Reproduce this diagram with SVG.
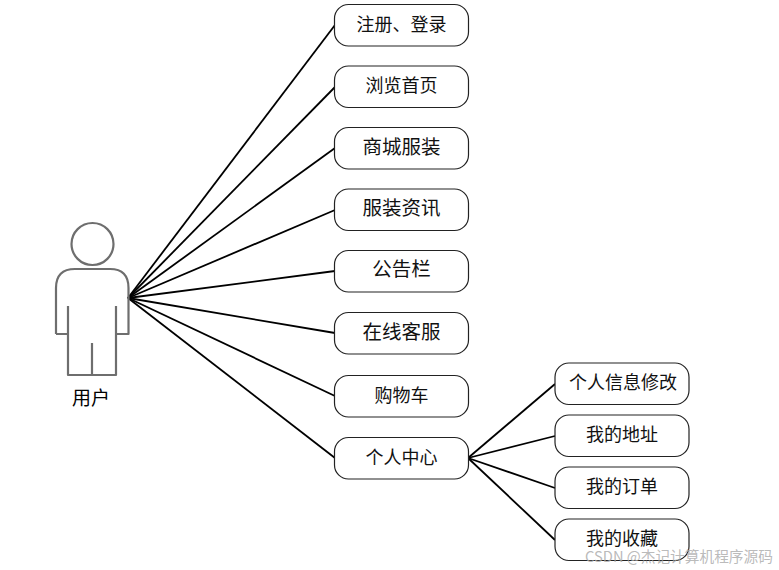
<svg xmlns="http://www.w3.org/2000/svg" width="779" height="570" viewBox="0 0 779 570">
<style>
.n{fill:#fff;stroke:#222;stroke-width:1.2}
.t{font-family:"Noto Sans CJK SC","Noto Sans",sans-serif;font-size:18px;fill:#111;text-anchor:middle}
.l{font-size:19.500px}
.c line{stroke:#000;stroke-width:1.8}
.a{fill:none;stroke:#6e6e6e;stroke-width:2.2;stroke-linejoin:round}
</style>
<rect width="779" height="570" fill="#fff"/>
<g class="c" id="connectors">
<line x1="128" y1="298" x2="335" y2="25"/>
<line x1="128" y1="298" x2="335" y2="87"/>
<line x1="128" y1="298" x2="335" y2="148"/>
<line x1="128" y1="298" x2="335" y2="210"/>
<line x1="128" y1="298" x2="335" y2="271"/>
<line x1="128" y1="298" x2="335" y2="333"/>
<line x1="128" y1="298" x2="335" y2="396"/>
<line x1="128" y1="298" x2="335" y2="458"/>
<line x1="468" y1="458" x2="555" y2="384"/>
<line x1="468" y1="458" x2="555" y2="436"/>
<line x1="468" y1="458" x2="555" y2="488"/>
<line x1="468" y1="458" x2="555" y2="540"/>
</g>
<g id="actor">
<circle class="a" cx="92.500" cy="244" r="21"/>
<path class="a" d="M56 334V288Q56 269 75 269H110Q128.500 269 128.500 288V334H116V306M116 334V375H68V334H56M68 334V306M92 375V343"/>
<text class="t" x="91" y="405" style="font-size:19px;fill:#000">用户</text>
</g>
<g id="n1"><rect class="n" x="334.500" y="4.500" width="134" height="41.500" rx="14"/><text class="t" x="401.500" y="31">注册、登录</text></g>
<g id="n2"><rect class="n" x="334.500" y="66" width="134" height="41.500" rx="14"/><text class="t" x="401.500" y="92">浏览首页</text></g>
<g id="n3"><rect class="n" x="334.500" y="127.500" width="134" height="41.500" rx="14"/><text class="t l" x="401.500" y="154">商城服装</text></g>
<g id="n4"><rect class="n" x="334.500" y="189" width="134" height="41.500" rx="14"/><text class="t l" x="401.500" y="215">服装资讯</text></g>
<g id="n5"><rect class="n" x="334.500" y="250.500" width="134" height="41.500" rx="14"/><text class="t l" x="401.500" y="276">公告栏</text></g>
<g id="n6"><rect class="n" x="334.500" y="312.500" width="134" height="41.500" rx="14"/><text class="t l" x="401.500" y="339">在线客服</text></g>
<g id="n7"><rect class="n" x="334.500" y="375.500" width="134" height="41.500" rx="14"/><text class="t" x="401.500" y="402">购物车</text></g>
<g id="n8"><rect class="n" x="334.500" y="437.500" width="134" height="41.500" rx="14"/><text class="t" x="401.500" y="464">个人中心</text></g>
<g id="n9"><rect class="n" x="555" y="363" width="134" height="41.500" rx="14"/><text class="t" x="623" y="389">个人信息修改</text></g>
<g id="n10"><rect class="n" x="555" y="415" width="134" height="41.500" rx="14"/><text class="t" x="622" y="441">我的地址</text></g>
<g id="n11"><rect class="n" x="555" y="467" width="134" height="41.500" rx="14"/><text class="t" x="622" y="493">我的订单</text></g>
<g id="n12"><rect class="n" x="555" y="519" width="134" height="41.500" rx="14"/><text class="t" x="622" y="545">我的收藏</text></g>
<text x="679" y="562" text-anchor="middle" font-family="'Noto Sans CJK SC',sans-serif" font-size="14.700" fill="#a8a8a8" fill-opacity=".8">CSDN @杰记计算机程序源码</text>
</svg>
